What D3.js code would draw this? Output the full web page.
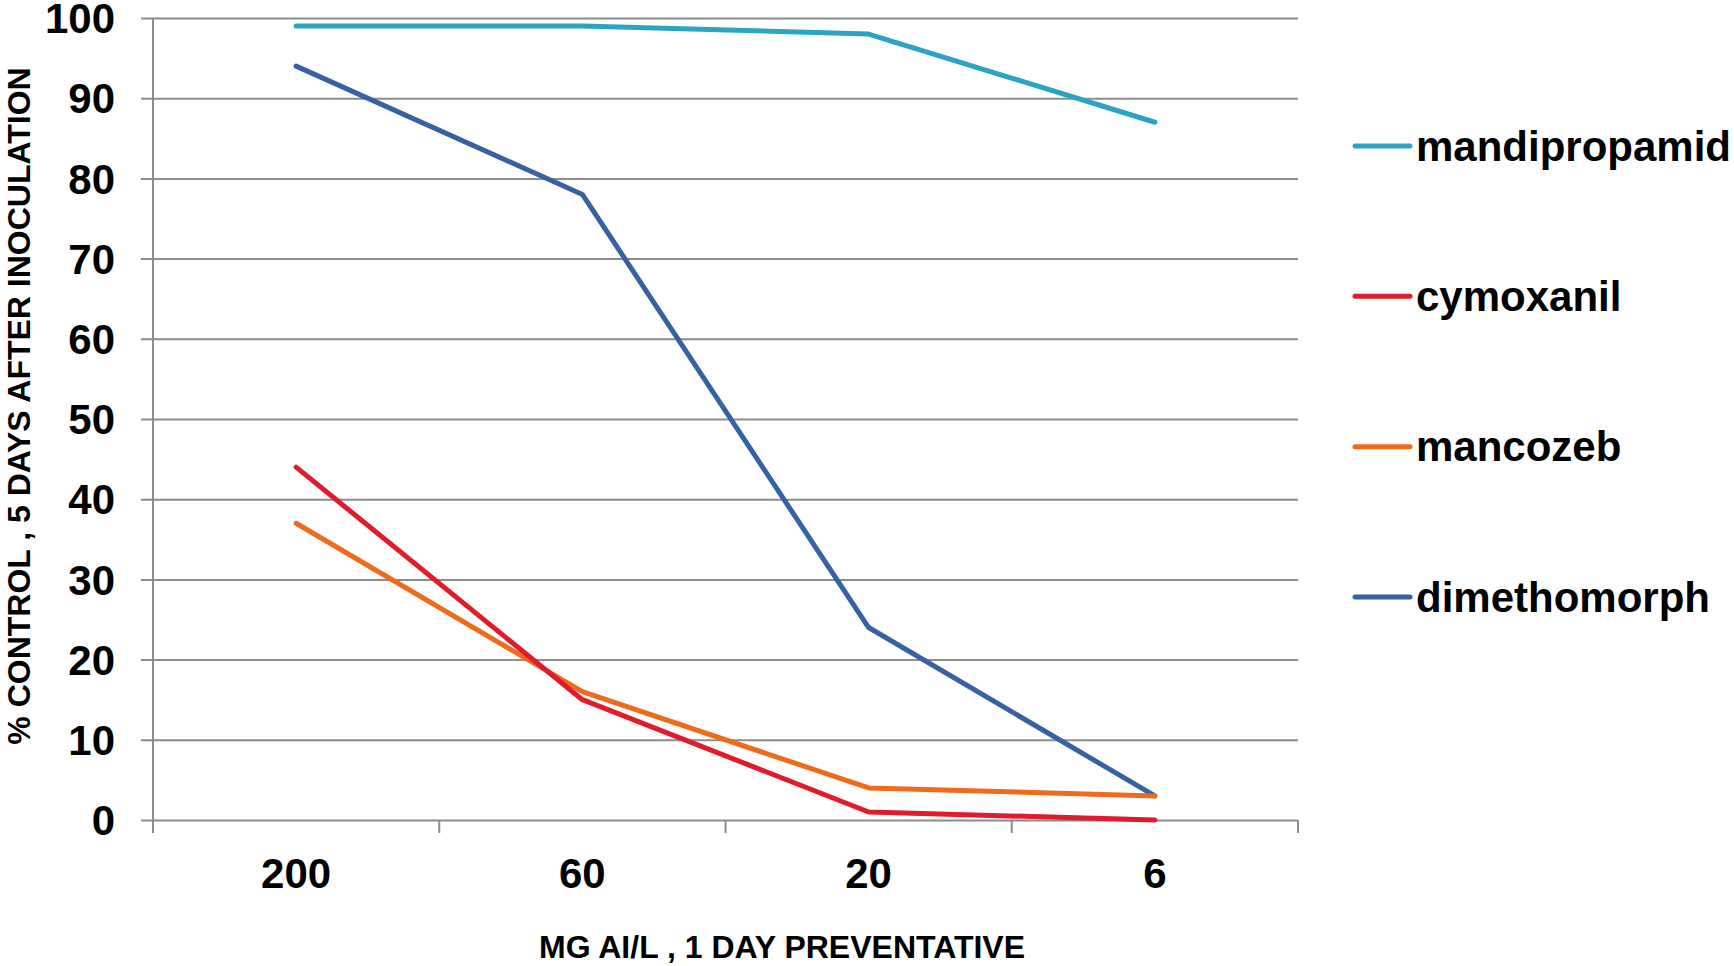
<!DOCTYPE html>
<html>
<head>
<meta charset="utf-8">
<script src="https://cdn.jsdelivr.net/npm/d3@7"></script>
<style>
  body { margin: 0; background: #fff; }
  text { font-family: "Liberation Sans", Arial, sans-serif; font-weight: bold; fill: #000; }
</style>
</head>
<body>
<div id="chart"></div>
<script>
// data
var doses = ["200", "60", "20", "6"];
var yTicks = [0, 10, 20, 30, 40, 50, 60, 70, 80, 90, 100];
var seriesNames = ["mandipropamid", "cymoxanil", "mancozeb", "dimethomorph"];
var mandipropamid = [99, 99, 98, 87];
var cymoxanil = [44, 15, 1, 0];
var mancozeb = [37, 16, 4, 3];
var dimethomorph = [94, 78, 24, 3];
var colors = ["#2ba3c3", "#e01b2b", "#f06a1c", "#3762a2"];

var width = 1734, height = 966;
var plotLeft = 153, plotRight = 1298, plotTop = 18, plotBottom = 820;

var svg = d3.select("#chart")
    .append("svg")
    .attr("width", width)
    .attr("height", height);

var xScale = d3.scaleBand()
    .domain(doses)
    .range([plotLeft, plotRight]);

var yScale = d3.scaleLinear()
    .domain([0, 100])
    .range([plotBottom, plotTop]);

// horizontal grid lines + y tick labels
var yAxis = svg.append("g")
    .attr("transform", "translate(" + plotLeft + ",0)")
    .call(d3.axisLeft(yScale)
        .tickValues(yTicks)
        .tickSize(12)
        .tickPadding(26));
yAxis.select(".domain").remove();
yAxis.selectAll(".tick line")
    .attr("x2", plotRight - plotLeft)
    .attr("x1", -12)
    .attr("stroke", "#8c8c8c")
    .attr("stroke-width", 2);
yAxis.selectAll(".tick text")
    .style("font-size", "42px")
    .attr("dy", "0.35em");

// y axis line
svg.append("line")
    .attr("x1", plotLeft).attr("x2", plotLeft)
    .attr("y1", plotTop).attr("y2", plotBottom + 13)
    .attr("stroke", "#8c8c8c")
    .attr("stroke-width", 2);

// x axis: category labels
var xAxis = svg.append("g")
    .attr("transform", "translate(0," + plotBottom + ")")
    .call(d3.axisBottom(xScale).tickSize(0).tickPadding(68));
xAxis.select(".domain").remove();
xAxis.selectAll(".tick text")
    .style("font-size", "42px")
    .attr("dy", "0");

// x axis: category boundary ticks
var bounds = doses.map(function(d) { return xScale(d); }).concat([xScale.range()[1]]);
svg.selectAll(".xtick")
    .data(bounds)
    .enter().append("line")
    .attr("class", "xtick")
    .attr("x1", function(d) { return d; })
    .attr("x2", function(d) { return d; })
    .attr("y1", plotBottom)
    .attr("y2", plotBottom + 13)
    .attr("stroke", "#8c8c8c")
    .attr("stroke-width", 2);

// axis titles
svg.append("text")
    .attr("x", 782)
    .attr("y", 958)
    .style("text-anchor", "middle")
    .style("font-size", "32px")
    .text("MG AI/L , 1 DAY PREVENTATIVE");

svg.append("text")
    .attr("transform", "translate(30,406) rotate(-90)")
    .style("text-anchor", "middle")
    .style("font-size", "32px")
    .text("% CONTROL , 5 DAYS AFTER INOCULATION");

// lines
var allSeries = [mandipropamid, cymoxanil, mancozeb, dimethomorph];
var line = d3.line()
    .x(function(d, i) { return xScale(doses[i]) + xScale.bandwidth() / 2; })
    .y(function(d) { return yScale(d); });

// draw order: blues under, red/orange over
var drawOrder = [0, 3, 2, 1];
drawOrder.forEach(function(k) {
    svg.append("path")
        .datum(allSeries[k])
        .attr("fill", "none")
        .attr("stroke", colors[k])
        .attr("stroke-width", 5)
        .attr("stroke-linecap", "round")
        .attr("stroke-linejoin", "round")
        .attr("d", line);
});

// legend
var legendY = d3.scalePoint()
    .domain(seriesNames)
    .range([146, 597]);

var legend = svg.selectAll(".legend")
    .data(seriesNames)
    .enter().append("g")
    .attr("class", "legend")
    .attr("transform", function(d) { return "translate(1355," + legendY(d) + ")"; });

legend.append("line")
    .attr("x1", 0).attr("x2", 55)
    .attr("stroke", function(d, i) { return colors[i]; })
    .attr("stroke-width", 5)
    .attr("stroke-linecap", "round");

legend.append("text")
    .attr("x", 61)
    .attr("dy", "0.35em")
    .style("font-size", "42px")
    .text(function(d) { return d; });
</script>
</body>
</html>
